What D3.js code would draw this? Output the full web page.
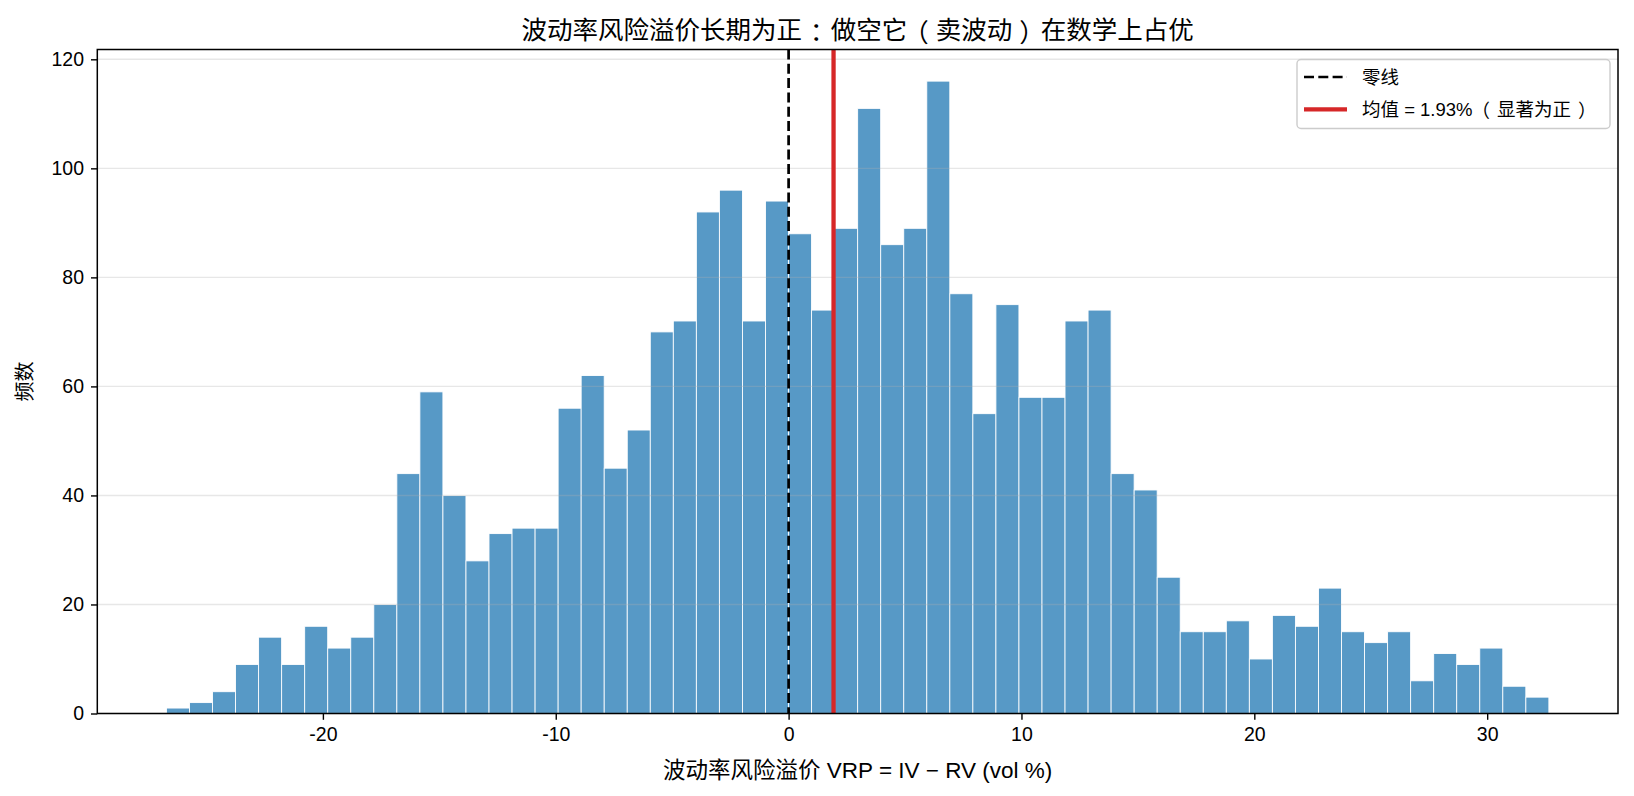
<!DOCTYPE html>
<html>
<head>
<meta charset="utf-8">
<script src="https://cdn.jsdelivr.net/npm/d3@7"></script>
<style>
  html, body { margin: 0; padding: 0; background: #fff; }
  svg text { font-family: "Liberation Sans", Arial, "Noto Sans CJK SC", sans-serif; fill: #000; }
  tspan.pw { font-family: "Noto Sans CJK TC", "Noto Sans CJK SC", sans-serif; font-feature-settings: "palt" 1; }
</style>
</head>
<body>
<svg id="chart" width="1634" height="796"></svg>
<script>
// ---- data ----
const counts = [1,2,4,9,14,9,16,12,14,20,
                44,59,40,28,33,34,34,56,62,45,
                52,70,72,92,96,72,94,88,74,89,
                111,86,89,116,77,55,75,58,58,72,
                74,44,41,25,15,15,17,10,18,16,
                23,15,13,15,6,11,9,12,5,3];
const binLo = -26.72;
const binHi = 32.65;
const xTickValues = [-20, -10, 0, 10, 20, 30];
const yTickValues = [0, 20, 40, 60, 80, 100, 120];
const zeroValue = 0;
const meanValue = 1.93;
const titleText = "波动率风险溢价长期为正：做空它（卖波动）在数学上占优";
const xLabelText = "波动率风险溢价 VRP = IV − RV (vol %)";
const yLabelText = "频数";
const legendLabels = ["零线", "均值 = 1.93%（显著为正）"];

(function () {
// ---- layout ----
const W = 1634, H = 796;
const mLeft = 97.3, mRight = 1618, mTop = 49.5, mBottom = 713.5;

const svg = d3.select("#chart");
svg.append("rect").attr("width", W).attr("height", H).attr("fill", "#fff");

const nb = counts.length;
const bw = (binHi - binLo) / nb;
const bins = counts.map((c, i) => ({ x0: binLo + i * bw, x1: binLo + (i + 1) * bw, c }));
const pad = (binHi - binLo) * 0.05;

const x = d3.scaleLinear().domain([binLo - pad, binHi + pad]).range([mLeft, mRight]);
const y = d3.scaleLinear().domain([0, d3.max(counts) * 1.05]).range([mBottom, mTop]);

const fam = '"Liberation Sans", Arial, "Noto Sans CJK SC", sans-serif';
const punct = "：（）";

// full-width punctuation: proportional glyph centred in a full em cell (as in the reference)
function puncText(sel, str, fs, padPx) {
  const q = 0.25 * fs;
  let buf = "";
  let nextDx = 0;
  const flush = () => {
    if (!buf) return;
    const t = sel.append("tspan").text(buf);
    if (nextDx) t.attr("dx", nextDx);
    nextDx = 0; buf = "";
  };
  for (const ch of str) {
    if (punct.includes(ch)) {
      flush();
      sel.append("tspan").attr("class", "pw")
        .attr("dx", nextDx + padPx + q)
        .text(ch);
      nextDx = padPx + q;
    } else {
      buf += ch;
    }
  }
  flush();
}

// bars
svg.append("g").selectAll("rect").data(bins).join("rect")
  .attr("x", d => x(d.x0))
  .attr("width", d => x(d.x1) - x(d.x0))
  .attr("y", d => y(d.c))
  .attr("height", d => y(0) - y(d.c))
  .attr("fill", "#1f77b4")
  .attr("stroke", "#fff")
  .attr("stroke-width", 0.9)
  .attr("opacity", 0.75);

// grid (horizontal)
svg.append("g").selectAll("line").data(yTickValues).join("line")
  .attr("x1", mLeft).attr("x2", mRight)
  .attr("y1", d => y(d)).attr("y2", d => y(d))
  .attr("stroke", "#b0b0b0").attr("stroke-opacity", 0.3).attr("stroke-width", 1.4);

// zero line & mean line
svg.append("line")
  .attr("x1", x(zeroValue)).attr("x2", x(zeroValue))
  .attr("y1", mTop).attr("y2", mBottom)
  .attr("stroke", "#000").attr("stroke-width", 2.7)
  .attr("stroke-dasharray", "10,4.3");
svg.append("line")
  .attr("x1", x(meanValue)).attr("x2", x(meanValue))
  .attr("y1", mTop).attr("y2", mBottom)
  .attr("stroke", "#d62728").attr("stroke-width", 4.3);

// axes
const xAxis = d3.axisBottom(x).tickValues(xTickValues).tickSize(6.3).tickPadding(7)
  .tickFormat(d => String(d));
const gx = svg.append("g").attr("transform", `translate(0,${mBottom})`).call(xAxis);
gx.select(".domain").remove();
gx.selectAll(".tick line").attr("stroke", "#000").attr("stroke-width", 1.4);
gx.selectAll(".tick text").attr("font-size", 19.5).attr("font-family", '"Liberation Sans", Arial, sans-serif').attr("fill", "#000");

const yAxis = d3.axisLeft(y).tickValues(yTickValues).tickSize(6.3).tickPadding(7)
  .tickFormat(d => String(d));
const gy = svg.append("g").attr("transform", `translate(${mLeft},0)`).call(yAxis);
gy.select(".domain").remove();
gy.selectAll(".tick line").attr("stroke", "#000").attr("stroke-width", 1.4);
gy.selectAll(".tick text").attr("font-size", 19.5).attr("font-family", '"Liberation Sans", Arial, sans-serif').attr("fill", "#000");

// spines
svg.append("rect")
  .attr("x", mLeft).attr("y", mTop)
  .attr("width", mRight - mLeft).attr("height", mBottom - mTop)
  .attr("fill", "none").attr("stroke", "#000").attr("stroke-width", 1.5);

// title
const title = svg.append("text")
  .attr("x", (mLeft + mRight) / 2).attr("y", 30)
  .attr("text-anchor", "middle").attr("dominant-baseline", "central")
  .attr("font-size", 25.5).attr("font-family", fam);
puncText(title, titleText, 25.5, 1.5);

// x label
svg.append("text")
  .attr("x", (mLeft + mRight) / 2).attr("y", 770)
  .attr("text-anchor", "middle").attr("dominant-baseline", "central")
  .attr("font-size", 22.5).attr("font-family", fam)
  .text(xLabelText);

// y label
svg.append("text")
  .attr("transform", `translate(25,${(mTop + mBottom) / 2}) rotate(-90)`)
  .attr("text-anchor", "middle").attr("dominant-baseline", "central")
  .attr("font-size", 20).attr("font-family", fam)
  .text(yLabelText);

// legend
const lg = svg.append("g");
lg.append("rect")
  .attr("x", 1297).attr("y", 59.5).attr("width", 313).attr("height", 69)
  .attr("rx", 4).attr("fill", "#fff").attr("fill-opacity", 0.8)
  .attr("stroke", "#cccccc").attr("stroke-width", 1.4);
const rows = [
  { label: legendLabels[0], color: "#000", dash: "10,4.3", w: 2.7, yy: 77 },
  { label: legendLabels[1], color: "#d62728", dash: null, w: 4.3, yy: 109.3 }
];
rows.forEach(r => {
  const l = lg.append("line")
    .attr("x1", 1304).attr("x2", 1347).attr("y1", r.yy).attr("y2", r.yy)
    .attr("stroke", r.color).attr("stroke-width", r.w);
  if (r.dash) l.attr("stroke-dasharray", r.dash);
  const t = lg.append("text")
    .attr("x", 1362).attr("y", r.yy)
    .attr("dominant-baseline", "central")
    .attr("font-size", 18.5).attr("font-family", fam);
  puncText(t, r.label, 18.5, 3);
});
})();
</script>
</body>
</html>
